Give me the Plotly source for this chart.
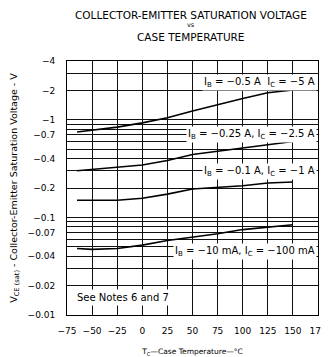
import plotly.graph_objects as go
import math

# Data (magnitudes of VCE(sat) in volts vs case temperature in °C)
temp = [-65, -50, -25, 0, 25, 50, 75, 100, 125, 150]
v_05A = [0.75, 0.78, 0.84, 0.93, 1.05, 1.23, 1.43, 1.65, 1.89, 2.02]
v_025A = [0.30, 0.31, 0.325, 0.344, 0.383, 0.44, 0.476, 0.517, 0.556, 0.60]
v_01A = [0.150, 0.150, 0.150, 0.157, 0.173, 0.195, 0.203, 0.211, 0.225, 0.23]
v_10mA = [0.048, 0.047, 0.048, 0.052, 0.058, 0.0625, 0.068, 0.075, 0.080, 0.084]

series_names = ["I_B=-0.5A", "I_B=-0.25A", "I_B=-0.1A", "I_B=-10mA"]
series_vals = [v_05A, v_025A, v_01A, v_10mA]

x_ticks = [-75, -50, -25, 0, 25, 50, 75, 100, 125, 150, 175]
y_labeled = {0.01: "−0.01", 0.02: "−0.02", 0.04: "−0.04", 0.07: "−0.07", 0.1: "−0.1",
             0.2: "−0.2", 0.4: "−0.4", 0.7: "−0.7", 1: "−1", 2: "−2", 4: "−4"}
y_grid = [round(m * 10 ** e, 4) for e in (-2, -1, 0) for m in range(1, 10) if m * 10 ** e <= 4.0001]

fig = go.Figure()
for name, vals in zip(series_names, series_vals):
    fig.add_trace(go.Scatter(x=temp, y=vals, mode="lines", name=name,
                             line=dict(color="black", width=1.6), showlegend=False))

font = "DejaVu Sans, Arial, sans-serif"
ann_font = dict(family=font, size=10, color="black")
labels = [
    ("I<sub>B</sub> = −0.5 A  I<sub>C</sub> = −5 A", 2.4),
    ("I<sub>B</sub> = −0.25 A, I<sub>C</sub> = −2.5 A", 0.71),
    ("I<sub>B</sub> = −0.1 A, I<sub>C</sub> = −1 A", 0.295),
    ("I<sub>B</sub> = −10 mA, I<sub>C</sub> = −100 mA", 0.045),
]
for txt, yv in labels:
    fig.add_annotation(x=174, y=math.log10(yv), text=txt, showarrow=False,
                       xanchor="right", yanchor="middle", font=ann_font,
                       bgcolor="white", borderpad=1)
fig.add_annotation(x=-68, y=math.log10(0.0152), text="See Notes 6 and 7", showarrow=False,
                   xanchor="left", yanchor="middle", font=dict(family=font, size=10, color="black"),
                   bgcolor="white", borderpad=2)

for txt, yp, sz in [("COLLECTOR-EMITTER SATURATION VOLTAGE", 1.183, 10.5),
                    ("vs", 1.142, 6.5),
                    ("CASE TEMPERATURE", 1.096, 10.5)]:
    fig.add_annotation(xref="paper", yref="paper", x=0.494, y=yp, text=txt, showarrow=False,
                       xanchor="center", yanchor="middle",
                       font=dict(family=font, size=sz, color="black"))

# page body has an 8px margin, so the figure is shrunk by 8px and margins offset accordingly
fig.update_layout(
    width=321, height=349,
    margin=dict(l=59, r=11, t=53, b=42),
    paper_bgcolor="white", plot_bgcolor="white",
    xaxis=dict(range=[-75, 175], tickvals=x_ticks, ticktext=[str(v).replace("-", "−") for v in x_ticks],
               showgrid=True, gridcolor="#111", gridwidth=1, zeroline=False, automargin=False,
               showline=True, linecolor="black", linewidth=1, mirror=True,
               ticks="", ticklabelstandoff=7, tickfont=dict(family=font, size=9, color="black"),
               title=dict(text="T<sub>C</sub>—Case Temperature—°C", font=dict(family=font, size=7.5, color="black"),
                          standoff=14)),
    yaxis=dict(type="log", range=[-2, math.log10(4)], tickvals=y_grid,
               ticktext=[y_labeled.get(v, "") for v in y_grid],
               showgrid=True, gridcolor="#111", gridwidth=1, zeroline=False, automargin=False,
               showline=True, linecolor="black", linewidth=1, mirror=True,
               ticks="", ticklabelstandoff=9, tickfont=dict(family=font, size=9, color="black"),
               title=dict(text="V<sub>CE (sat)</sub> - Collector-Emitter Saturation Voltage - V",
                          font=dict(family=font, size=9.5, color="black"), standoff=8)),
)

fig.write_html("out.html")
